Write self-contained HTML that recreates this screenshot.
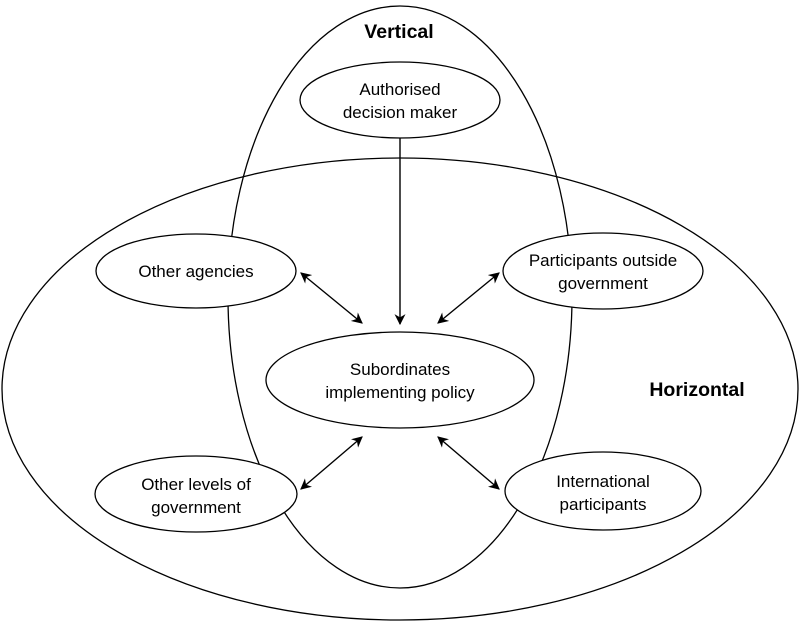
<!DOCTYPE html>
<html><head><meta charset="utf-8"><style>
html,body{margin:0;padding:0;background:#fff;}
svg{display:block;}
text{font-family:"Liberation Sans",sans-serif;font-size:17px;fill:#000;text-anchor:middle;}
.b{font-weight:bold;font-size:19.5px;}
</style></head><body>
<svg width="800" height="622" viewBox="0 0 800 622" xmlns="http://www.w3.org/2000/svg">
<defs>
<marker id="a" viewBox="0 0 10 10" refX="9" refY="5" markerWidth="11" markerHeight="11" markerUnits="userSpaceOnUse" orient="auto-start-reverse">
<path d="M0,0 L10,5 L0,10 L3,5 z" fill="#000"/></marker>
</defs>
<g fill="none" stroke="#000" stroke-width="1.3">
<ellipse cx="400" cy="297" rx="172" ry="291"/>
<ellipse cx="400" cy="389" rx="398" ry="231"/>
</g>
<g fill="#fff" stroke="#000" stroke-width="1.3">
<ellipse cx="400" cy="100" rx="100" ry="38"/>
<ellipse cx="196" cy="271" rx="100" ry="37"/>
<ellipse cx="603" cy="271" rx="100" ry="38"/>
<ellipse cx="400" cy="380" rx="134" ry="48"/>
<ellipse cx="196" cy="494" rx="101" ry="38"/>
<ellipse cx="603" cy="491" rx="98" ry="39"/>
</g>
<g stroke="#000" stroke-width="1.4" fill="none">
<line x1="400" y1="138" x2="400" y2="324" marker-end="url(#a)"/>
<line x1="301" y1="273" x2="362" y2="323" marker-start="url(#a)" marker-end="url(#a)"/>
<line x1="499" y1="273" x2="438" y2="323" marker-start="url(#a)" marker-end="url(#a)"/>
<line x1="301" y1="489" x2="362" y2="437" marker-start="url(#a)" marker-end="url(#a)"/>
<line x1="438" y1="437" x2="499" y2="489" marker-start="url(#a)" marker-end="url(#a)"/>
</g>
<text class="b" x="399" y="38">Vertical</text>
<text class="b" x="697" y="396">Horizontal</text>
<text x="400" y="95">Authorised</text>
<text x="400" y="118">decision maker</text>
<text x="196" y="277">Other agencies</text>
<text x="603" y="266">Participants outside</text>
<text x="603" y="289">government</text>
<text x="400" y="375">Subordinates</text>
<text x="400" y="398">implementing policy</text>
<text x="196" y="490">Other levels of</text>
<text x="196" y="513">government</text>
<text x="603" y="487">International</text>
<text x="603" y="510">participants</text>
</svg>
</body></html>
